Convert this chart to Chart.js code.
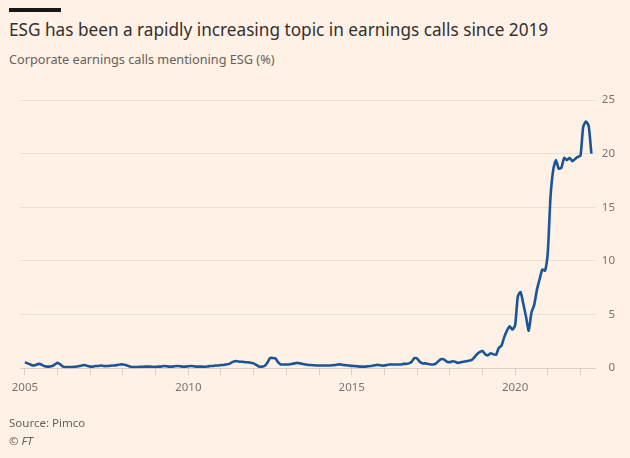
<!DOCTYPE html>
<html>
<head>
<meta charset="utf-8">
<script src="https://cdn.jsdelivr.net/npm/chart.js@4.4.1/dist/chart.umd.min.js"></script>
<style>
  body { margin: 0; background: #fff1e5; }
  #wrap { position: relative; width: 630px; height: 458px; background: #fff1e5; font-family: 'Noto Sans', sans-serif; overflow: hidden; }
  #bar { position: absolute; left: 9px; top: 8px; width: 52px; height: 4px; background: #1a1817; }
  #title { position: absolute; left: 9px; top: 18px; font-size: 17.2px; color: #33302e; white-space: nowrap; }
  #subtitle { position: absolute; left: 9px; top: 50px; font-size: 12.7px; color: #66605c; white-space: nowrap; }
  #source { position: absolute; left: 9px; top: 415px; font-size: 11.5px; color: #66605c; }
  #copy { position: absolute; left: 9px; top: 433px; font-size: 11.5px; color: #66605c; font-style: italic; }
  canvas { position: absolute; left: 0; top: 0; }
</style>
</head>
<body>
<div id="wrap">
  <div id="bar"></div>
  <div id="title">ESG has been a rapidly increasing topic in earnings calls since 2019</div>
  <div id="subtitle">Corporate earnings calls mentioning ESG (%)</div>
  <canvas id="chart" width="630" height="458"></canvas>
  <div id="source">Source: Pimco</div>
  <div id="copy">© FT</div>
</div>
<script>
// monthly values, Jan 2005 .. May 2022 (% of calls mentioning ESG)
const years = [2005, 2006, 2007, 2008, 2009, 2010, 2011, 2012, 2013, 2014, 2015, 2016, 2017, 2018, 2019, 2020, 2021, 2022];
const esgShare = {
    2005: [0.55, 0.45, 0.35, 0.25, 0.3, 0.4, 0.35, 0.2, 0.15, 0.15, 0.2, 0.35],
    2006: [0.5, 0.35, 0.15, 0.1, 0.1, 0.1, 0.12, 0.15, 0.2, 0.25, 0.3, 0.2],
    2007: [0.15, 0.15, 0.2, 0.2, 0.25, 0.2, 0.2, 0.22, 0.25, 0.25, 0.3, 0.35],
    2008: [0.35, 0.3, 0.2, 0.12, 0.1, 0.1, 0.12, 0.12, 0.15, 0.15, 0.15, 0.12],
    2009: [0.12, 0.15, 0.15, 0.2, 0.18, 0.15, 0.15, 0.18, 0.2, 0.18, 0.15, 0.15],
    2010: [0.18, 0.2, 0.18, 0.15, 0.15, 0.15, 0.12, 0.15, 0.2, 0.2, 0.25, 0.25],
    2011: [0.3, 0.3, 0.35, 0.4, 0.55, 0.65, 0.65, 0.6, 0.6, 0.55, 0.55, 0.5],
    2012: [0.45, 0.3, 0.15, 0.15, 0.2, 0.5, 0.95, 0.95, 0.9, 0.55, 0.35, 0.35],
    2013: [0.35, 0.35, 0.4, 0.45, 0.5, 0.45, 0.4, 0.35, 0.3, 0.3, 0.28, 0.25],
    2014: [0.25, 0.25, 0.25, 0.25, 0.25, 0.28, 0.3, 0.35, 0.35, 0.3, 0.28, 0.25],
    2015: [0.22, 0.2, 0.18, 0.15, 0.15, 0.15, 0.18, 0.2, 0.25, 0.3, 0.3, 0.25],
    2016: [0.25, 0.3, 0.35, 0.35, 0.35, 0.35, 0.35, 0.4, 0.4, 0.45, 0.6, 0.95],
    2017: [0.9, 0.6, 0.45, 0.45, 0.4, 0.35, 0.35, 0.45, 0.7, 0.85, 0.8, 0.6],
    2018: [0.55, 0.65, 0.6, 0.5, 0.55, 0.6, 0.65, 0.7, 0.75, 1.0, 1.3, 1.5],
    2019: [1.6, 1.3, 1.2, 1.4, 1.3, 1.25, 1.9, 2.1, 2.9, 3.5, 3.9, 3.6],
    2020: [4.0, 6.7, 7.1, 6.0, 4.8, 3.5, 5.2, 5.9, 7.3, 8.3, 9.2, 9.1],
    2021: [10.8, 16.0, 18.5, 19.4, 18.6, 18.7, 19.6, 19.4, 19.6, 19.3, 19.5, 19.7],
    2022: [19.8, 22.5, 23.0, 22.6, 20.0]
};
const yTicks = [0, 5, 10, 15, 20, 25];
const xLabelYears = [2005, 2010, 2015, 2020];

// month positions as decimal years
const points = [];
years.forEach(y => {
    esgShare[y].forEach((v, i) => points.push({ x: y + i / 12, y: v }));
});

const axisText = '#7a736e';
const gridColour = '#eadfd5';

new Chart(document.getElementById('chart'), {
    type: 'line',
    data: {
        datasets: [{
            data: points,
            borderColor: '#1a5599',
            borderWidth: 2.6,
            pointRadius: 0,
            tension: 0.2,
            fill: false
        }]
    },
    options: {
        responsive: false,
        animation: false,
        layout: { padding: { top: 100, left: 20, right: 15, bottom: 57 } },
        plugins: { legend: { display: false }, tooltip: { enabled: false } },
        scales: {
            x: {
                type: 'linear',
                min: 2004.85,
                max: 2022.47,
                border: { display: false },
                grid: {
                    drawOnChartArea: false,
                    drawTicks: true,
                    tickLength: 7,
                    color: '#ddd0c5'
                },
                ticks: {
                    stepSize: 1,
                    includeBounds: false,
                    autoSkip: false,
                    maxRotation: 0,
                    padding: 6,
                    color: axisText,
                    font: { family: 'Noto Sans', size: 11.5 },
                    callback: v => xLabelYears.includes(v) ? String(v) : ''
                }
            },
            y: {
                position: 'right',
                min: 0,
                max: 25,
                border: { display: false },
                afterBuildTicks: axis => { axis.ticks = yTicks.map(v => ({ value: v })); },
                grid: {
                    drawTicks: false,
                    color: ctx => ctx.tick && ctx.tick.value === 0 ? '#ddd0c5' : gridColour
                },
                ticks: {
                    padding: 3,
                    crossAlign: 'far',
                    color: axisText,
                    font: { family: 'Noto Sans', size: 11.5 }
                }
            }
        }
    }
});
</script>
</body>
</html>
